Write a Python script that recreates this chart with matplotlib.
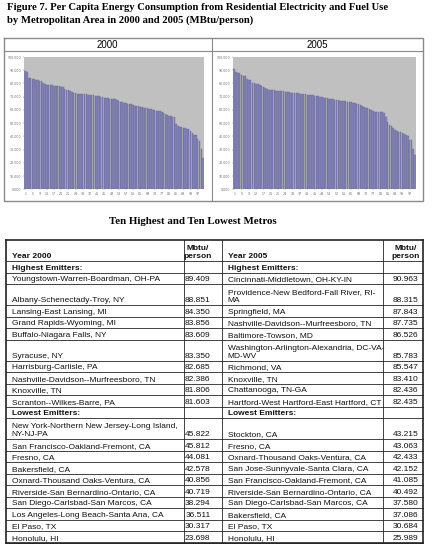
import matplotlib
matplotlib.use('Agg')
import matplotlib.pyplot as plt
import numpy as np

W, H = 434, 546

# ---------------- data ----------------
per_capita_2000 = [
    89.409, 88.851, 84.350, 83.856, 83.609, 83.350, 82.685, 82.386, 81.806, 81.603,
    80.2, 79.3, 79.0, 78.9, 78.8, 78.7, 78.3, 78.1, 77.9, 77.8,
    77.6, 77.4, 75.6, 75.3, 75.0, 74.6, 73.5, 73.0, 72.6, 72.4,
    72.2, 72.0, 71.9, 71.8, 71.7, 71.6, 71.5, 71.3, 71.0, 70.8,
    70.6, 70.4, 69.9, 69.6, 69.3, 69.1, 68.8, 68.5, 68.2, 68.0,
    67.9, 67.6, 66.8, 66.3, 65.9, 65.5, 65.1, 64.8, 64.6, 64.3,
    64.0, 63.3, 63.0, 62.7, 62.4, 62.1, 61.7, 61.4, 61.1, 60.8,
    60.5, 60.2, 59.8, 59.5, 59.2, 58.9, 58.4, 57.6, 57.0, 56.3,
    55.6, 55.3, 54.9, 54.4, 49.5, 47.8, 47.3, 46.9, 46.5, 46.0,
    45.822, 45.812, 44.081, 42.578, 40.856, 40.719, 38.294, 36.511, 30.317, 23.698,
]
per_capita_2005 = [
    90.963, 88.315, 87.843, 87.735, 86.526, 85.783, 85.547, 83.410, 82.436, 82.435,
    80.3, 80.0, 79.8, 79.4, 78.5, 77.8, 77.0, 76.3, 75.8, 75.3,
    75.0, 74.9, 74.8, 74.6, 74.5, 74.3, 74.2, 74.0, 73.8, 73.6,
    73.3, 73.1, 73.0, 72.9, 72.8, 72.6, 72.4, 72.2, 72.0, 71.8,
    71.6, 71.3, 71.1, 70.9, 70.7, 70.5, 70.2, 69.9, 69.6, 69.3,
    69.0, 68.7, 68.4, 68.2, 68.0, 67.8, 67.6, 67.3, 67.1, 66.9,
    66.7, 66.5, 66.3, 66.1, 65.8, 65.5, 65.2, 64.8, 64.3, 63.8,
    63.2, 62.2, 61.5, 61.1, 60.7, 60.3, 59.4, 58.8, 58.6, 58.5,
    58.4, 58.2, 57.5, 54.6, 51.2, 48.8, 47.5, 46.2, 45.2, 44.2,
    43.215, 43.063, 42.433, 42.152, 41.085, 40.492, 37.580, 37.086, 30.684, 25.989,
]
rank_ticks = [1, 5, 9, 13, 17, 21, 25, 29, 33, 37, 41, 45, 49, 53, 57, 61, 65, 69, 73, 77, 81, 85, 89, 93, 97]
value_ticks = [0, 10, 20, 30, 40, 50, 60, 70, 80, 90, 100]

high_2000_names = [
    "Youngstown-Warren-Boardman, OH-PA", "Albany-Schenectady-Troy, NY",
    "Lansing-East Lansing, MI", "Grand Rapids-Wyoming, MI", "Buffalo-Niagara Falls, NY",
    "Syracuse, NY", "Harrisburg-Carlisle, PA", "Nashville-Davidson--Murfreesboro, TN",
    "Knoxville, TN", "Scranton--Wilkes-Barre, PA",
]
high_2000_vals = [89.409, 88.851, 84.350, 83.856, 83.609, 83.350, 82.685, 82.386, 81.806, 81.603]
high_2005_names = [
    "Cincinnati-Middletown, OH-KY-IN", "Providence-New Bedford-Fall River, RI-\nMA",
    "Springfield, MA", "Nashville-Davidson--Murfreesboro, TN", "Baltimore-Towson, MD",
    "Washington-Arlington-Alexandria, DC-VA-\nMD-WV", "Richmond, VA", "Knoxville, TN",
    "Chattanooga, TN-GA", "Hartford-West Hartford-East Hartford, CT",
]
high_2005_vals = [90.963, 88.315, 87.843, 87.735, 86.526, 85.783, 85.547, 83.410, 82.436, 82.435]
low_2000_names = [
    "New York-Northern New Jersey-Long Island,\nNY-NJ-PA", "San Francisco-Oakland-Fremont, CA",
    "Fresno, CA", "Bakersfield, CA", "Oxnard-Thousand Oaks-Ventura, CA",
    "Riverside-San Bernardino-Ontario, CA", "San Diego-Carlsbad-San Marcos, CA",
    "Los Angeles-Long Beach-Santa Ana, CA", "El Paso, TX", "Honolulu, HI",
]
low_2000_vals = [45.822, 45.812, 44.081, 42.578, 40.856, 40.719, 38.294, 36.511, 30.317, 23.698]
low_2005_names = [
    "Stockton, CA", "Fresno, CA", "Oxnard-Thousand Oaks-Ventura, CA",
    "San Jose-Sunnyvale-Santa Clara, CA", "San Francisco-Oakland-Fremont, CA",
    "Riverside-San Bernardino-Ontario, CA", "San Diego-Carlsbad-San Marcos, CA",
    "Bakersfield, CA", "El Paso, TX", "Honolulu, HI",
]
low_2005_vals = [43.215, 43.063, 42.433, 42.152, 41.085, 40.492, 37.580, 37.086, 30.684, 25.989]

# ---------------- figure ----------------
fig = plt.figure(figsize=(W / 100, H / 100), dpi=100)
fig.patch.set_facecolor('white')
ov = fig.add_axes([0, 0, 1, 1])
ov.set_xlim(0, W)
ov.set_ylim(H, 0)
ov.axis('off')

SERIF = 'Liberation Serif'
SANS = 'Liberation Sans'

ov.text(7, 10.5, "Figure 7. Per Capita Energy Consumption from Residential Electricity and Fuel Use",
        fontfamily=SERIF, fontweight='bold', fontsize=7.65, va='baseline', ha='left')
ov.text(7, 22.5, "by Metropolitan Area in 2000 and 2005 (MBtu/person)",
        fontfamily=SERIF, fontweight='bold', fontsize=7.65, va='baseline', ha='left')

# chart box
bc = '#8a8a8a'
bx0, bx1, by0, by1, bym, bxm = 3.5, 422.5, 37.5, 200.5, 50.5, 211.5
ov.plot([bx0, bx1, bx1, bx0, bx0], [by0, by0, by1, by1, by0], color=bc, lw=1.0)
ov.plot([bx0, bx1], [bym, bym], color=bc, lw=0.8)
ov.plot([bxm, bxm], [by0, by1], color=bc, lw=0.8)
ov.text((bx0 + bxm) / 2, 47.5, "2000", fontfamily=SANS, fontsize=7, ha='center', va='baseline')
ov.text((bxm + bx1) / 2, 47.5, "2005", fontfamily=SANS, fontsize=7, ha='center', va='baseline')


def px_axes(x0, x1, y0, y1):
    return fig.add_axes([x0 / W, 1 - y1 / H, (x1 - x0) / W, (y1 - y0) / H])


def bar_chart(ax, vals):
    ranks = np.arange(1, len(vals) + 1)
    ax.bar(ranks, vals, width=0.85, color='#8686BA', edgecolor='#62628F', linewidth=0.25)
    ax.set_facecolor('#C0C0C0')
    ax.set_xlim(0.5, len(vals) + 0.5)
    ax.set_ylim(0, 100)
    ax.set_xticks(rank_ticks)
    ax.set_xticklabels([str(t) for t in rank_ticks])
    ax.set_yticks(value_ticks)
    ax.set_yticklabels(["%.3f" % t for t in value_ticks])
    ax.tick_params(labelsize=2.3, length=0.8, width=0.3, pad=1.5, colors='#707070')
    for s in ax.spines.values():
        s.set_visible(False)


bar_chart(px_axes(24.3, 204, 57, 189.3), per_capita_2000)
bar_chart(px_axes(233.3, 416, 57, 189.3), per_capita_2005)

# heading
ov.text(192.6, 224, "Ten Highest and Ten Lowest Metros", fontfamily=SERIF, fontweight='bold',
        fontsize=7.8, ha='center', va='baseline')

# ---------------- table ----------------
tx0, tx1 = 6, 422.7
c1, c2, c3 = 184.3, 221.7, 382.7
ttop = 240.0
R, D = 11.5, 21.0
fs = 6.0
lead = 8.3
base_pad = 2.6

rows = [('header',), ('section', 'Highest Emitters:')]
for i in range(10):
    rows.append(('data', high_2000_names[i], high_2000_vals[i], high_2005_names[i], high_2005_vals[i]))
rows.append(('section', 'Lowest Emitters:'))
for i in range(10):
    rows.append(('data', low_2000_names[i], low_2000_vals[i], low_2005_names[i], low_2005_vals[i]))


def draw_lines(x, ybot, txt, bold=False, ha='left'):
    lines = txt.split('\n')
    for k, ln in enumerate(reversed(lines)):
        ov.text(x, ybot - base_pad - k * lead, ln, fontfamily=SANS, fontsize=fs,
                fontweight='bold' if bold else 'normal', ha=ha, va='baseline', color='#111111')


y = ttop
lc = '#222222'
for r in rows:
    if r[0] == 'header':
        h = D
    elif r[0] == 'section':
        h = R
    else:
        h = D if ('\n' in r[1] or '\n' in r[3]) else R
    yb = y + h
    if r[0] == 'header':
        draw_lines(11.5, yb, "Year 2000", bold=True)
        draw_lines(198, yb, "Mbtu/\nperson", bold=True, ha='center')
        draw_lines(227.5, yb, "Year 2005", bold=True)
        draw_lines(406, yb, "Mbtu/\nperson", bold=True, ha='center')
    elif r[0] == 'section':
        draw_lines(11.5, yb, r[1], bold=True)
        draw_lines(227.5, yb, r[1], bold=True)
    else:
        draw_lines(11.5, yb, r[1])
        draw_lines(210.5, yb, "%.3f" % r[2], ha='right')
        draw_lines(227.5, yb, r[3])
        draw_lines(418.5, yb, "%.3f" % r[4], ha='right')
    ov.plot([tx0, tx1], [yb, yb], color=lc, lw=0.6)
    y = yb
tbot = y
ov.plot([tx0, tx1], [ttop, ttop], color=lc, lw=1.2)
ov.plot([tx0, tx1], [tbot, tbot], color=lc, lw=1.2)
ov.plot([tx0, tx0], [ttop, tbot], color=lc, lw=1.2)
ov.plot([tx1, tx1], [ttop, tbot], color=lc, lw=1.2)
for cx in (c1, c2, c3):
    ov.plot([cx, cx], [ttop, tbot], color=lc, lw=0.6)

fig.savefig('out.png', dpi=100, facecolor='white')
